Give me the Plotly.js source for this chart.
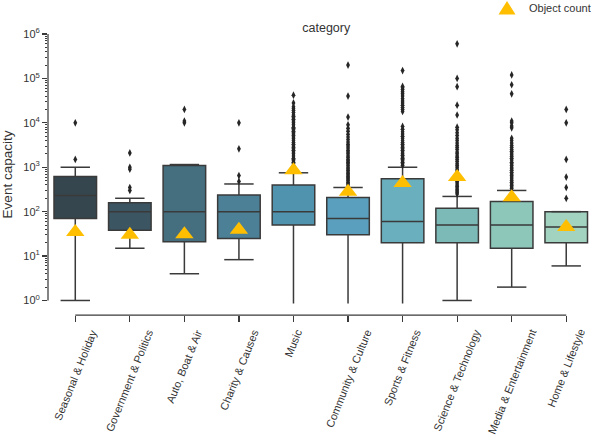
<!DOCTYPE html>
<html>
<head>
<meta charset="utf-8">
<script src="https://cdn.plot.ly/plotly-3.0.1.min.js"></script>
<style>html,body{margin:0;padding:0;background:#fff}</style>
</head>
<body>
<div id="chart" style="width:591px;height:438px"></div>
<script>
// Event categories, in plotting order
const categories = [
  'Seasonal & Holiday', 'Government & Politics', 'Auto, Boat & Air', 'Charity & Causes',
  'Music', 'Community & Culture', 'Sports & Fitness', 'Science & Technology',
  'Media & Entertainment', 'Home & Lifestyle'
];

// Box statistics of event capacity per category
const q1         = [70, 38, 21, 25, 50, 30, 20, 20, 15, 20];
const medians    = [230, 100, 100, 100, 100, 70, 60, 50, 50, 45];
const q3         = [620, 158, 1100, 236, 400, 208, 550, 120, 170, 100];
const whiskerLow = [1, 15, 4, 8.3, 0, 0, 0, 1, 2, 6];
const whiskerHigh = [1000, 200, 1150, 420, 750, 350, 1000, 220, 300, 100];

// Object count per category (triangles)
const objectCount = [35, 30, 31, 39, 850, 280, 440, 600, 210, 45];
const objectCountName = 'Object count';

// Outlying event capacities per category
const outSeasonal   = [1500, 10000];
const outGovernment = [300, 350, 900, 1000, 2100];
const outAuto       = [10000, 11000, 20000];
const outCharity    = [480, 650, 2600, 10000];
const outMusic = [800, 850, 900, 950, 1000, 1100, 1200, 1300, 1400, 1500, 1600, 1800, 2000, 2200,
  2400, 2600, 2800, 3000, 3300, 3600, 4000, 4400, 4800, 5200, 5600, 6000, 6500, 7000, 7500, 8000,
  9000, 10000, 11000, 12000, 13000, 14000, 15000, 17000, 19000, 21000, 23000, 28000, 42000];
const outCommunity = [400, 430, 460, 500, 540, 580, 620, 670, 720, 780, 850, 920, 1000, 1100, 1200,
  1300, 1400, 1500, 1650, 1800, 2000, 2200, 2400, 2700, 3000, 3300, 3700, 4200, 4800, 5500, 6500,
  7500, 9000, 13500, 40000, 200000];
const outSports = [1100, 1200, 1300, 1400, 1500, 1600, 1700, 1850, 2000, 2200, 2400, 2600, 2800,
  3000, 3300, 3600, 4000, 4500, 5000, 5600, 6300, 7200, 8300, 18000, 20000, 22000, 25000, 28000,
  31000, 35000, 40000, 45000, 50000, 56000, 62000, 66000, 150000];
const outScience = [250, 270, 290, 310, 340, 370, 400, 440, 480, 520, 570, 620, 680, 750, 820, 900,
  1000, 1100, 1200, 1350, 1500, 1650, 1800, 2000, 2200, 2500, 2800, 3100, 3500, 4000, 4500, 5200,
  6000, 7000, 8000, 15000, 25000, 65000, 100000, 600000];
const outMedia = [330, 360, 390, 420, 460, 500, 550, 600, 650, 700, 770, 850, 930, 1000, 1100, 1200,
  1300, 1450, 1600, 1750, 1900, 2100, 2300, 2500, 2800, 3100, 3500, 4000, 4500, 7700, 8500, 10000,
  11000, 45000, 72000, 120000];
const outHome = [200, 350, 600, 1500, 10000, 20000];

const outliers = [outSeasonal, outGovernment, outAuto, outCharity, outMusic,
  outCommunity, outSports, outScience, outMedia, outHome];

// Y tick labels
const yTickVals = [1, 10, 100, 1000, 10000, 100000, 1000000];
const yTickText = ['10<sup>0</sup>', '10<sup>1</sup>', '10<sup>2</sup>', '10<sup>3</sup>',
  '10<sup>4</sup>', '10<sup>5</sup>', '10<sup>6</sup>'];

// Styling
const boxColors = ['#35464e', '#3c5562', '#456e7f', '#4b8097', '#5093ae',
  '#5aa0be', '#6aafbe', '#7cbab7', '#8dc7ba', '#a1d3c0'];
const ink = '#3a3a3a';
const textColor = '#333333';
const markerGold = '#FFBF00';
const fontFamily = '"Liberation Sans", Arial, sans-serif';
const zeroClip = 0.86;   // lower end of the value area; whiskers reaching 0 stop here

const traces = [];

categories.forEach((cat, i) => {
  traces.push({
    type: 'box',
    x: [cat],
    q1: [q1[i]],
    median: [medians[i]],
    q3: [q3[i]],
    lowerfence: [whiskerLow[i] > 0 ? whiskerLow[i] : zeroClip],
    upperfence: [whiskerHigh[i]],
    width: 0.78,
    whiskerwidth: 0,
    fillcolor: boxColors[i],
    line: {color: ink, width: 1.5},
    boxpoints: false,
    showlegend: false,
    hoverinfo: 'skip'
  });
});

// Whisker caps (none where the whisker runs off the bottom)
const capX = [], capY = [];
categories.forEach((cat, i) => {
  capX.push(cat); capY.push(whiskerHigh[i]);
  if (whiskerLow[i] > 0) { capX.push(cat); capY.push(whiskerLow[i]); }
});
traces.push({
  type: 'scatter', mode: 'markers', x: capX, y: capY,
  marker: {symbol: 'line-ew', size: 21, color: ink, line: {color: ink, width: 1.5}},
  showlegend: false, hoverinfo: 'skip'
});

// Outliers
const outX = [], outY = [];
categories.forEach((cat, i) => {
  outliers[i].forEach(v => { outX.push(cat); outY.push(v); });
});
traces.push({
  type: 'scatter', mode: 'markers', x: outX, y: outY,
  marker: {symbol: 'diamond-tall', size: 5.5, color: '#262626'},
  showlegend: false, hoverinfo: 'skip'
});

// Object count triangles
traces.push({
  type: 'scatter', mode: 'markers', name: objectCountName,
  x: categories, y: objectCount,
  marker: {symbol: 'triangle-up', size: 16, color: markerGold},
  showlegend: false, hoverinfo: 'skip'
});

// Minor log ticks between the labelled decades
const minorVals = [];
for (let d = 0; d < 6; d++) for (let k = 2; k <= 9; k++) minorVals.push(k * Math.pow(10, d));

// Category labels, centred under their ticks
const annotations = categories.map(cat => ({
  x: cat, xref: 'x', y: 0, yref: 'paper', yshift: -10,
  text: cat, textangle: -68, showarrow: false,
  xanchor: 'center', yanchor: 'top',
  font: {family: fontFamily, size: 11, color: textColor}
}));

// Legend entry in the top-right corner
const legendKeyX = 0.8453, legendTextX = 0.8821, legendY = 1.0925;
annotations.push({
  x: legendTextX, xref: 'paper', y: legendY, yref: 'paper',
  text: objectCountName, showarrow: false, xanchor: 'left', yanchor: 'middle',
  font: {family: fontFamily, size: 11, color: textColor}
});

const layout = {
  width: 591, height: 438,
  margin: {l: 48, r: 0, t: 34, b: 123},
  paper_bgcolor: '#ffffff', plot_bgcolor: '#ffffff',
  font: {family: fontFamily, size: 11, color: textColor},
  boxmode: 'overlay',
  showlegend: false,
  title: {
    text: 'category', xref: 'container', yref: 'container',
    x: 0.552, xanchor: 'center', y: 0.938, yanchor: 'middle',
    font: {family: fontFamily, size: 12.5, color: textColor}
  },
  xaxis: {
    type: 'category', categoryorder: 'array', categoryarray: categories,
    range: [-0.5, 9.454],
    showline: false, showgrid: false, zeroline: false,
    ticks: 'outside', ticklen: 6, tickwidth: 1.25, tickcolor: ink,
    showticklabels: false
  },
  yaxis: {
    type: 'log', range: [-0.327, 6],
    showline: false, showgrid: false, zeroline: false,
    tickmode: 'array', tickvals: yTickVals, ticktext: yTickText,
    ticks: 'outside', ticklen: 5, tickwidth: 1.25, tickcolor: ink,
    tickfont: {family: fontFamily, size: 11, color: textColor},
    minor: {tickmode: 'array', tickvals: minorVals, ticks: 'outside', ticklen: 2.5, tickwidth: 1, tickcolor: ink, showgrid: false},
    title: {text: 'Event capacity', standoff: 9, font: {family: fontFamily, size: 13.5, color: textColor}}
  },
  shapes: [
    // trimmed spines
    {type: 'line', xref: 'x', yref: 'paper', x0: 0, x1: categories.length - 1, y0: 0, y1: 0,
     line: {color: ink, width: 1.25}},
    {type: 'line', xref: 'paper', yref: 'y', x0: 0, x1: 0, y0: yTickVals[0], y1: yTickVals[yTickVals.length - 1],
     line: {color: ink, width: 1.25}},
    // legend key triangle
    {type: 'path', xref: 'paper', yref: 'paper', xsizemode: 'pixel', ysizemode: 'pixel',
     xanchor: legendKeyX, yanchor: legendY,
     path: 'M-8.5,-6.5 L8.5,-6.5 L0,7 Z',
     fillcolor: markerGold, line: {width: 0}}
  ],
  annotations: annotations
};

Plotly.newPlot('chart', traces, layout, {displayModeBar: false, staticPlot: true});
</script>
</body>
</html>
